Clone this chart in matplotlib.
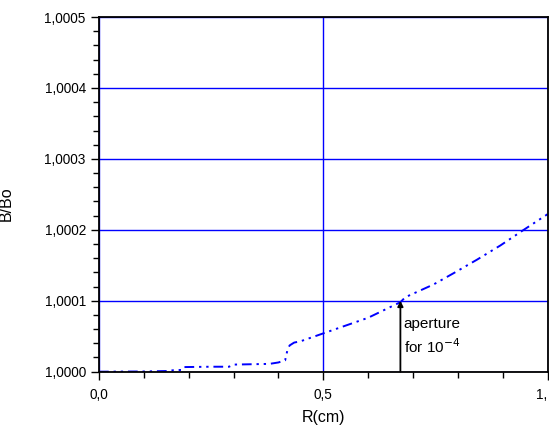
import matplotlib
matplotlib.use("Agg")
import matplotlib.pyplot as plt
from matplotlib.ticker import MultipleLocator

plt.rcParams['font.family'] = ['Liberation Sans', 'DejaVu Sans']

# courbe B/Bo en fonction du rayon (ecart en 1e-4)
r_cm = [0.0, 0.10, 0.155, 0.165, 0.185, 0.19, 0.25, 0.29, 0.30, 0.38, 0.40, 0.415,
        0.42, 0.425, 0.435, 0.45, 0.50, 0.55, 0.60, 0.672, 0.683, 0.746, 0.791,
        0.843, 0.895, 0.947, 1.0]
ecart = [0.0, 0.003, 0.01, 0.02, 0.025, 0.065, 0.07, 0.07, 0.10, 0.11, 0.13, 0.16,
         0.30, 0.37, 0.41, 0.43, 0.54, 0.65, 0.76, 0.98, 1.05, 1.23, 1.39,
         1.58, 1.78, 2.0, 2.22]
b_bo = [1 + e * 1e-4 for e in ecart]

yticks = [1.0, 1.0001, 1.0002, 1.0003, 1.0004, 1.0005]
ylabels = ["1,0000", "1,0001", "1,0002", "1,0003", "1,0004", "1,0005"]
xticks = [0.0, 0.5, 1.0]
xlabels = ["0,0", "0,5", "1,"]

r_ouverture = 0.672

fig = plt.figure(figsize=(5.49, 4.26), dpi=100)
ax = fig.add_axes([0.1803, 0.1275, 0.8170, 0.8325])

ax.plot(r_cm, b_bo, color='#0000ff', lw=1.4,
        dashes=(5, 2.5, 1.2, 2.5, 1.2, 2.5), zorder=3)

ax.set_xlim(0, 1.0)
ax.set_ylim(1.0, 1.0005)
ax.set_yticks(yticks)
ax.set_yticklabels(ylabels)
ax.set_xticks(xticks)
ax.set_xticklabels(xlabels)
# le dernier label est coupe au bord dans l'original
ax.get_xticklabels()[-1].set_ha('right')
ax.yaxis.set_minor_locator(MultipleLocator(0.00002))
ax.xaxis.set_minor_locator(MultipleLocator(0.1))

ax.grid(True, which='major', color='#0000ff', lw=1)
ax.tick_params(which='major', direction='out', length=6, width=1, labelsize=9.8, colors='black')
ax.tick_params(which='minor', direction='out', length=4, width=1)
ax.tick_params(axis='x', pad=6)
for s in ax.spines.values():
    s.set_linewidth(1.3)
    s.set_zorder(4)

ax.annotate("", xy=(r_ouverture, 1.0001), xytext=(r_ouverture, 1.0),
            arrowprops=dict(arrowstyle='-|>', color='black', lw=1.3,
                            mutation_scale=8, shrinkA=0, shrinkB=0))
ax.text(r_ouverture + 0.007, 1.0000672, "aperture", fontsize=11, va='center')
ax.text(r_ouverture + 0.007, 1.0000348, "for 10$^{-4}$", fontsize=11, va='center')

ax.set_xlabel("R(cm)", fontsize=11.5, va='center')
ax.set_ylabel("B/Bo", fontsize=11.5, va='center')
ax.xaxis.set_label_coords(0.5, -0.128)
ax.yaxis.set_label_coords(-0.2065, 0.473)

fig.savefig("out.png", dpi=100)
